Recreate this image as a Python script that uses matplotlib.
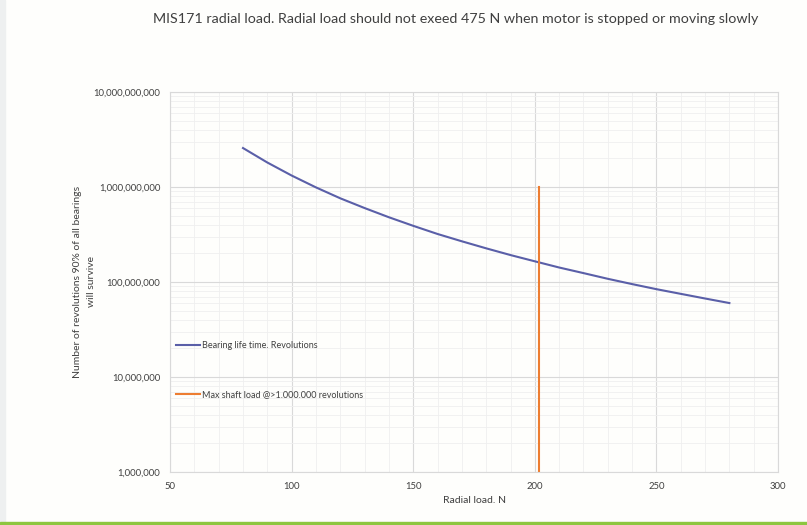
import matplotlib.pyplot as plt
from matplotlib.ticker import FuncFormatter, LogLocator, MultipleLocator, NullFormatter

# radial load (N) and bearing life (revolutions)
load = [80, 90, 100, 110, 120, 130, 140, 150, 160, 170, 180,
        190, 200, 210, 220, 230, 240, 250, 260, 270, 280]
life = [2.57e9, 1.81e9, 1.32e9, 9.9e8, 7.6e8, 6.0e8, 4.8e8, 3.9e8, 3.2e8, 2.68e8, 2.26e8,
        1.92e8, 1.65e8, 1.42e8, 1.24e8, 1.08e8, 9.5e7, 8.4e7, 7.5e7, 6.7e7, 6.0e7]

max_load_x = [201.8, 201.8]
max_load_y = [1e6, 1e9]

title = "MIS171 radial load. Radial load should not exeed 475 N when motor is stopped or moving slowly"
life_label = "Bearing life time. Revolutions"
max_label = "Max shaft load @>1.000.000 revolutions"

plt.rcParams['font.family'] = ['Lato', 'DejaVu Sans']
txt = '#404040'

fig = plt.figure(figsize=(8.07, 5.25), dpi=100, facecolor='#fefefc')
ax = fig.add_axes([0.2107, 0.101, 0.7534, 0.7238])
ax.set_facecolor('#fefefc')

ax.plot(load, life, color='#5a5fa8', lw=1.5, label=life_label)
ax.plot(max_load_x, max_load_y, color='#ed7d31', lw=1.5, label=max_label)

ax.set_yscale('log')
ax.set_xlim(50, 300)
ax.set_ylim(1e6, 1e10)
ax.xaxis.set_major_locator(MultipleLocator(50))
ax.xaxis.set_minor_locator(MultipleLocator(10))
ax.yaxis.set_major_locator(LogLocator(base=10))
ax.yaxis.set_minor_locator(LogLocator(base=10, subs=range(2, 10)))
ax.yaxis.set_minor_formatter(NullFormatter())
ax.yaxis.set_major_formatter(FuncFormatter(lambda v, p: f"{int(round(v)):,}"))

ax.grid(which='major', color='#d9d9d9', lw=0.8)
ax.grid(which='minor', color='#efefef', lw=0.6)
ax.set_axisbelow(True)
for s in ax.spines.values():
    s.set_color('#d9d9d9')
    s.set_linewidth(0.8)
ax.tick_params(which='both', length=0, colors=txt, labelsize=6.8, pad=7)

ax.set_xlabel("Radial load. N", fontsize=7.5, color=txt, labelpad=4)
ax.set_ylabel("Number of revolutions 90% of all bearings\nwill survive", fontsize=7.5,
              color=txt, labelpad=-1.5, linespacing=1.7)

fig.text(0.565, 0.964, title, ha='center', va='center', fontsize=10.3, color=txt)

leg = ax.legend(loc='upper left', bbox_to_anchor=(0.0, 0.36), frameon=False,
                fontsize=6.5, labelspacing=4.4, handlelength=2.6, handletextpad=0.2,
                borderaxespad=0.3)
for t in leg.get_texts():
    t.set_color(txt)

# page decoration: grey strip on the left, green rule at the bottom
fig.patches.append(plt.Rectangle((0, 0), 0.0062, 1, transform=fig.transFigure,
                                 color='#eef0f0', zorder=0))
fig.patches.append(plt.Rectangle((0, 0), 1, 0.0057, transform=fig.transFigure,
                                 color='#8dc63f', zorder=0))

fig.savefig('out.png', dpi=100, facecolor=fig.get_facecolor())
